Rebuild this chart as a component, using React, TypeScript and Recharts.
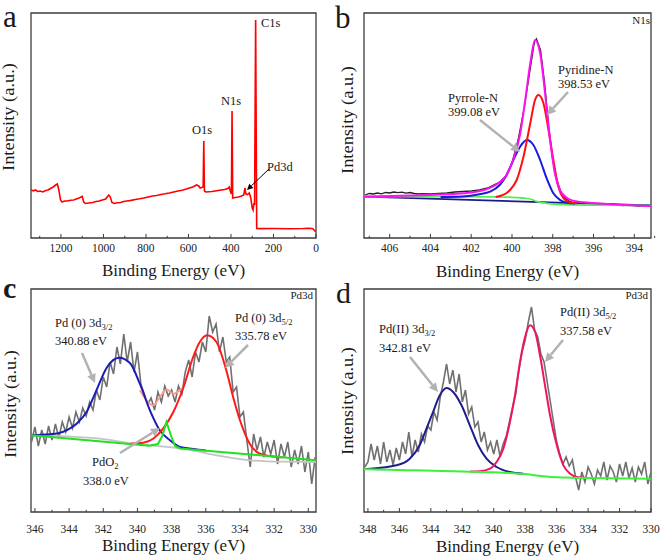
import React from 'react';
import { LineChart, Line, XAxis, YAxis, ReferenceArea } from 'recharts';

type P = [number, number];

// ---------- Panel a: survey ----------
const surveyTicks = [1300, 1200, 1100, 1000, 900, 800, 700, 600, 500, 400, 300, 200, 100, 0];
const surveyData: P[] = [
  [1341, 48], [1330, 47.2], [1320, 48], [1310, 46.5], [1298, 47], [1285, 46], [1272, 47.5], [1260, 48],
  [1250, 49.5], [1240, 50.5], [1225, 53], [1217, 54], [1210, 48],
  [1202, 38], [1195, 36], [1183, 37], [1170, 37], [1155, 37.8], [1140, 38], [1128, 39], [1115, 40], [1100, 41.5], [1093, 36], [1085, 34.5],
  [1070, 35], [1050, 35.5], [1035, 36.5], [1020, 37], [1005, 38], [990, 39], [975, 43], [968, 41], [960, 35.5], [950, 34.5], [935, 35.2], [920, 35.5],
  [905, 36.5], [890, 37], [870, 37.6], [850, 38.5], [830, 39.2], [810, 40], [790, 41], [770, 42], [750, 42.5], [730, 43.5], [710, 44.2], [690, 45], [670, 46], [650, 47], [630, 47.8], [610, 49], [595, 50], [580, 51],
  [562, 53], [552, 52], [545, 50], [531, 51], [528, 97], [525, 47], [518, 46], [505, 46.3], [490, 46.5], [475, 47], [460, 47.5],
  [445, 48], [430, 48.5], [415, 49.5], [408, 51], [402, 46], [398, 44], [395, 127], [392, 40], [380, 40.5], [365, 41],
  [350, 42], [340, 43], [334, 50], [330, 44], [322, 43.5], [314, 45], [307, 40], [300, 30], [296, 28],
  [292, 35], [289, 33], [284, 218], [279, 9.5], [260, 9.4], [200, 9.5], [120, 9.3], [60, 9.5], [30, 9.8],
  [15, 9.3], [6, 7.3], [0, 6],
];

// ---------- Panel b: N1s ----------
const n1sTicks = [407, 406, 405, 404, 403, 402, 401, 400, 399, 398, 397, 396, 395, 394, 393];
const n1sRaw: P[] = [
  [407.2, 43], [407.0, 44.5], [406.8, 44], [406.6, 45], [406.4, 44.2], [406.2, 45.5], [406.0, 45], [405.8, 46],
  [405.6, 45.3], [405.4, 45.8], [405.2, 44.8], [405.0, 45.5], [404.8, 44.5], [404.6, 44], [404.4, 44.3],
  [404.0, 44], [403.6, 44.5], [403.2, 45], [402.8, 46], [402.4, 46.5], [402.0, 47], [401.6, 48], [401.2, 50],
  [400.9, 53], [400.6, 56], [400.3, 62], [400.0, 75], [399.7, 98], [399.4, 130], [399.1, 170], [398.9, 196],
  [398.8, 199], [398.6, 188], [398.4, 155], [398.2, 112], [398.0, 78], [397.8, 58], [397.6, 46], [397.4, 40],
  [397.2, 37], [397.0, 35.5], [396.6, 35], [396.2, 34.8], [395.8, 34], [395.4, 33.5], [395.0, 33.8],
  [394.6, 32.5], [394.2, 33], [393.8, 32], [393.4, 32.5], [393.2, 32],
];
const n1sEnvelope: P[] = [
  [407.26, 41.3], [405, 42.5], [403, 44], [402, 45.5], [401.3, 48.5], [400.8, 53], [400.3, 62], [399.95, 78],
  [399.6, 104], [399.35, 138], [399.1, 175], [398.87, 198], [398.62, 185], [398.38, 145], [398.13, 98],
  [397.9, 65], [397.65, 48], [397.3, 40], [396.8, 36.5], [395.8, 34.7], [394.5, 33], [393.18, 32],
];
const n1sPyridine: P[] = [
  [400.8, 41], [400.6, 42], [400.3, 44.5], [400.1, 48], [399.77, 58], [399.44, 81], [399.1, 115],
  [398.87, 138], [398.7, 143], [398.46, 135], [398.21, 108], [397.97, 78], [397.72, 51], [397.48, 40],
  [397.15, 35.5], [396.8, 34.8],
];
const n1sPyrrole: P[] = [
  [403.5, 41], [402.4, 41.5], [401.6, 43.7], [401.08, 46.3], [400.6, 53], [400.26, 63], [399.93, 78],
  [399.6, 91.3], [399.28, 98], [398.95, 93], [398.62, 78], [398.3, 59.7], [397.97, 44.7], [397.64, 38],
  [397.3, 35.3], [396.9, 34.5],
];
const n1sLinearBg: P[] = [[407.26, 41.3], [393.18, 32.5]];
const n1sShirley: P[] = [
  [407.26, 41.5], [403, 41.5], [401, 41.2], [400, 40.7], [399.5, 40], [399.1, 39], [398.8, 36.7],
  [398.3, 34.7], [397.8, 33.7], [397, 33.2], [395, 32.8], [393.18, 32.3],
];

// ---------- Panel c: Pd3d (Pd 0) ----------
const pd0Ticks = [346, 345, 344, 343, 342, 341, 340, 339, 338, 337, 336, 335, 334, 333, 332, 331, 330];
const pd0Raw: P[] = [
  [346.2, 70], [346.0, 85], [345.8, 66], [345.6, 82], [345.4, 68], [345.2, 86], [345.0, 72], [344.8, 88],
  [344.6, 74], [344.4, 90], [344.2, 80], [344.0, 95], [343.8, 84], [343.6, 100], [343.4, 90], [343.2, 104],
  [343.0, 96], [342.8, 110], [342.6, 102], [342.4, 122], [342.2, 112], [342.0, 135], [341.8, 125],
  [341.6, 150], [341.4, 138], [341.2, 165], [341.0, 148], [340.8, 178], [340.6, 150], [340.4, 170],
  [340.2, 140], [340.0, 160], [339.8, 128], [339.6, 118], [339.4, 108], [339.2, 114], [339.0, 102],
  [338.8, 120], [338.6, 110], [338.4, 126], [338.2, 116], [338.0, 122], [337.8, 110], [337.6, 126],
  [337.4, 118], [337.2, 140], [337.0, 152], [336.8, 135], [336.6, 160], [336.4, 150], [336.2, 170],
  [336.0, 160], [335.8, 196], [335.6, 180], [335.4, 188], [335.2, 160], [335.0, 175], [334.8, 150],
  [334.6, 155], [334.4, 120], [334.2, 125], [334.0, 95], [333.8, 100], [333.6, 72], [333.4, 45],
  [333.2, 78], [333.0, 62], [332.8, 75], [332.6, 55], [332.4, 70], [332.2, 58], [332.0, 72], [331.8, 48],
  [331.6, 68], [331.4, 55], [331.2, 70], [331.0, 45], [330.8, 62], [330.6, 48], [330.4, 66], [330.2, 40],
  [330.0, 60], [329.8, 28], [329.6, 55],
];
const pd0GrayBg: P[] = [
  [346.23, 76.7], [344, 75.5], [342.2, 73.3], [340.25, 68.3], [337.3, 63.3], [335.4, 56.7], [333.4, 51.7],
  [331.5, 50.3], [329.55, 50],
];
const pd0Envelope: P[] = [
  [339.86, 121.7], [339.47, 111.7], [339.08, 106.7], [338.69, 115], [338.3, 122.7], [337.9, 118.3],
  [337.52, 121.7], [337.3, 125],
];
const pd0d32: P[] = [
  [346.23, 76.7], [345.1, 77.7], [344.15, 81.7], [343.56, 88.3], [342.98, 100], [342.4, 121.7],
  [341.8, 144.3], [341.07, 154.3], [340.44, 149], [339.86, 128.3], [339.27, 101.7], [338.69, 81.7],
  [338.1, 71.7], [337.52, 65], [336.74, 63], [336.0, 61.5],
];
const pd0d52: P[] = [
  [340.44, 68.3], [339.66, 69.3], [339.08, 73.3], [338.5, 83.3], [337.9, 100], [337.3, 125], [336.74, 155],
  [336.35, 170], [335.92, 176.7], [335.38, 170], [334.8, 141.7], [334.4, 115], [334.0, 91.7],
  [333.43, 68.3], [332.84, 58.3], [332.26, 56], [331.5, 54.6],
];
const pd0PdO2: P[] = [
  [346.23, 76.7], [339.3, 66.3], [338.8, 68], [338.55, 76], [338.3, 90], [338.05, 77], [337.8, 66],
  [337.5, 63.6], [329.55, 51.7],
];

// ---------- Panel d: Pd3d (Pd II) ----------
const pd2Ticks = [348, 347, 346, 345, 344, 343, 342, 341, 340, 339, 338, 337, 336, 335, 334, 333, 332, 331, 330];
const pd2Raw: P[] = [
  [348.2, 45], [348.0, 50], [347.8, 68], [347.6, 52], [347.4, 66], [347.2, 48], [347.0, 70], [346.8, 50],
  [346.6, 62], [346.4, 47], [346.2, 64], [346.0, 52], [345.8, 70], [345.6, 58], [345.4, 80], [345.2, 55],
  [345.0, 72], [344.8, 60], [344.6, 78], [344.4, 70], [344.2, 86], [344.0, 82], [343.8, 100], [343.6, 92],
  [343.4, 115], [343.2, 130], [343.0, 148], [342.8, 128], [342.6, 142], [342.4, 120], [342.2, 138],
  [342.0, 110], [341.8, 122], [341.6, 98], [341.4, 105], [341.2, 85], [341.0, 90], [340.8, 70],
  [340.6, 80], [340.4, 62], [340.2, 70], [340.0, 58], [339.8, 72], [339.6, 56], [339.4, 68], [339.2, 76],
  [339.0, 90], [338.8, 105], [338.6, 118], [338.4, 142], [338.2, 160], [338.0, 172], [337.8, 190],
  [337.6, 205], [337.4, 182], [337.2, 175], [337.0, 158], [336.8, 150], [336.6, 130], [336.4, 110],
  [336.2, 90], [336.0, 70], [335.8, 58], [335.6, 48], [335.4, 55], [335.2, 46], [335.0, 52], [334.8, 35],
  [334.6, 22], [334.4, 40], [334.2, 30], [334.0, 45], [333.8, 38], [333.6, 28], [333.4, 42], [333.2, 36],
  [333.0, 50], [332.8, 32], [332.6, 46], [332.4, 40], [332.2, 30], [332.0, 48], [331.8, 36], [331.6, 50],
  [331.4, 34], [331.2, 44], [331.0, 30], [330.8, 45], [330.6, 38], [330.4, 50], [330.2, 28], [330.0, 40],
];
const pd2d32: P[] = [
  [348.25, 43], [347.89, 43.3], [346.19, 46.7], [345.34, 53.3], [344.71, 66.7], [344.28, 83.3],
  [343.86, 100], [343.43, 116.7], [343.0, 124], [342.58, 120], [342.05, 106.7], [341.52, 86.7],
  [340.99, 66.7], [340.46, 53.3], [339.82, 45], [338.97, 40], [338.12, 38.3],
];
const pd2d52: P[] = [
  [341.5, 40.5], [340.88, 40.8], [340.24, 43.3], [339.82, 50], [339.39, 63.3], [338.97, 90],
  [338.65, 116.7], [338.33, 150], [338.01, 175], [337.69, 186.7], [337.37, 180], [337.06, 156.7],
  [336.74, 126.7], [336.42, 96.7], [335.99, 66.7], [335.57, 46.7], [335.14, 38.3], [334.72, 35], [334.2, 34.3],
];
const pd2Bg: P[] = [
  [348.25, 43], [347.9, 42.7], [345, 41.8], [342, 40.5], [340, 39.7], [339, 39], [338, 38], [337.3, 36.5],
  [336.5, 35.2], [335.5, 34.5], [334, 34], [330, 33.3],
];

const FONT = "'Liberation Serif','Times New Roman',Times,serif";
const AX = '#3c3c3c';

interface S { data: P[]; color: string; w: number; type?: 'linear' | 'monotone' }

const toPts = (a: P[]) => a.map(([e, v]) => ({ e, v }));

function Panel(props: {
  left: number; top: number; width: number; height: number;
  margin: { top: number; right: number; bottom: number; left: number };
  domain: [number, number]; yMax: number; ticks: number[]; major: number; labelDy: number; series: S[];
}) {
  const { left, top, width, height, margin, domain, yMax, ticks, major, labelDy, series } = props;
  const renderTick = (tp: any) => {
    const { x, y, payload } = tp;
    const v = payload.value as number;
    const r = v / major;
    const isMajor = Math.abs(r - Math.round(r)) < 1e-6;
    return (
      <g>
        <line x1={x} x2={x} y1={y} y2={y - (isMajor ? 4 : 2.2)} stroke={AX} strokeWidth={1} />
        {isMajor && (
          <text x={x} y={y + labelDy} textAnchor="middle" fontSize={11.5} fontFamily={FONT} fill="#222">
            {String(v)}
          </text>
        )}
      </g>
    );
  };
  return (
    <div style={{ position: 'absolute', left, top, width, height }}>
      <LineChart width={width} height={height} margin={margin}>
        <XAxis type="number" dataKey="e" domain={domain} reversed allowDataOverflow ticks={ticks}
          interval={0} tickLine={false} axisLine={false} tickSize={0} tickMargin={0} height={30}
          tick={renderTick} />
        <YAxis type="number" domain={[0, yMax]} allowDataOverflow hide />
        <ReferenceArea x1={domain[0]} x2={domain[1]} y1={0} y2={yMax} fill="none" fillOpacity={0}
          stroke={AX} strokeWidth={1.3} ifOverflow="visible" />
        {series.map((s, i) => (
          <Line key={i} data={toPts(s.data)} dataKey="v" type={s.type ?? 'monotone'} stroke={s.color}
            strokeWidth={s.w} dot={false} isAnimationActive={false} />
        ))}
      </LineChart>
    </div>
  );
}

function T(p: { x: number; y: number; s: number; a?: 'start' | 'middle' | 'end'; bold?: boolean; children: React.ReactNode }) {
  return (
    <text x={p.x} y={p.y} fontSize={p.s} textAnchor={p.a ?? 'start'} fontWeight={p.bold ? 'bold' : 'normal'}
      fontFamily={FONT} fill="#1a1a1a">
      {p.children}
    </text>
  );
}

function YTitle(p: { x: number; y: number }) {
  return (
    <text transform={`translate(${p.x},${p.y}) rotate(-90)`} fontSize={17} textAnchor="middle"
      fontFamily={FONT} fill="#1a1a1a" textLength={108} lengthAdjust="spacingAndGlyphs">
      Intensity (a.u.)
    </text>
  );
}

function Arrow(p: { x1: number; y1: number; x2: number; y2: number; color: string; w: number; head: number }) {
  const a = Math.atan2(p.y2 - p.y1, p.x2 - p.x1);
  const hl = p.head, hw = p.head * 0.5;
  const bx = p.x2 - hl * Math.cos(a), by = p.y2 - hl * Math.sin(a);
  const px = -Math.sin(a) * hw, py = Math.cos(a) * hw;
  return (
    <g>
      <line x1={p.x1} y1={p.y1} x2={bx} y2={by} stroke={p.color} strokeWidth={p.w} />
      <polygon points={`${p.x2},${p.y2} ${bx + px},${by + py} ${bx - px},${by - py}`} fill={p.color} />
    </g>
  );
}

const GA = '#b2b2b2';

export default function App() {
  return (
    <div style={{ position: 'absolute', left: 0, top: 0, width: 661, height: 558, background: '#fff', overflow: 'hidden' }}>
      <Panel left={0} top={0} width={330} height={280} margin={{ top: 13, right: 14, bottom: 12, left: 31 }}
        domain={[0, 1341]} yMax={225} ticks={surveyTicks} major={200} labelDy={14}
        series={[{ data: surveyData, color: '#ff0000', w: 1.6, type: 'linear' }]} />
      <Panel left={330} top={0} width={331} height={280} margin={{ top: 13, right: 10, bottom: 12, left: 34 }}
        domain={[393.18, 407.26]} yMax={225} ticks={n1sTicks} major={2} labelDy={14}
        series={[
          { data: n1sRaw, color: '#222222', w: 1.3, type: 'linear' },
          { data: n1sLinearBg, color: '#1a1a90', w: 1.8, type: 'linear' },
          { data: n1sShirley, color: '#55ee55', w: 1.8 },
          { data: n1sPyrrole, color: '#1a1ae0', w: 2 },
          { data: n1sPyridine, color: '#ff1010', w: 2 },
          { data: n1sEnvelope, color: '#ff10f0', w: 2 },
        ]} />
      <Panel left={0} top={280} width={330} height={278} margin={{ top: 9, right: 14, bottom: 16, left: 31 }}
        domain={[329.55, 346.23]} yMax={223} ticks={pd0Ticks} major={2} labelDy={21}
        series={[
          { data: pd0Raw, color: '#707070', w: 1.6, type: 'linear' },
          { data: pd0GrayBg, color: '#c4c4c4', w: 1.8 },
          { data: pd0Envelope, color: '#ff9a8a', w: 1.8 },
          { data: pd0d32, color: '#1c1cb4', w: 2 },
          { data: pd0d52, color: '#ff1a1a', w: 2 },
          { data: pd0PdO2, color: '#22e022', w: 2, type: 'linear' },
        ]} />
      <Panel left={330} top={280} width={331} height={278} margin={{ top: 9, right: 10, bottom: 16, left: 34 }}
        domain={[330, 348.25]} yMax={223} ticks={pd2Ticks} major={2} labelDy={21}
        series={[
          { data: pd2Raw, color: '#707070', w: 1.6, type: 'linear' },
          { data: pd2d32, color: '#1e1e8c', w: 2 },
          { data: pd2d52, color: '#f01464', w: 2 },
          { data: pd2Bg, color: '#3cf03c', w: 2 },
        ]} />

      <svg width={661} height={558} style={{ position: 'absolute', left: 0, top: 0, pointerEvents: 'none' }}>
        {/* panel letters */}
        <T x={3} y={27} s={31}>a</T>
        <T x={335} y={28} s={31}>b</T>
        <T x={3} y={298} s={30} bold>c</T>
        <T x={336} y={303} s={30}>d</T>

        {/* axis titles */}
        <T x={173.5} y={276} s={17} a="middle">Binding Energy (eV)</T>
        <T x={507.5} y={277} s={17} a="middle">Binding Energy (eV)</T>
        <T x={173.5} y={551} s={17} a="middle">Binding Energy (eV)</T>
        <T x={507.5} y={552} s={17} a="middle">Binding Energy (eV)</T>
        <YTitle x={14} y={117} />
        <YTitle x={353} y={120} />
        <YTitle x={16} y={404} />
        <YTitle x={353} y={401} />

        {/* panel a annotations */}
        <T x={261} y={27} s={12.5}>C1s</T>
        <T x={221} y={105} s={12.5}>N1s</T>
        <T x={192} y={134} s={12.5}>O1s</T>
        <T x={267} y={171} s={12.5}>Pd3d</T>
        <Arrow x1={269} y1={169} x2={247} y2={190} color="#000" w={1} head={6} />

        {/* panel b annotations */}
        <T x={650} y={24} s={11} a="end">N1s</T>
        <T x={558} y={74} s={12.5}>Pyridine-N</T>
        <T x={558} y={88} s={12.5}>398.53 eV</T>
        <T x={448} y={102} s={12.5}>Pyrrole-N</T>
        <T x={448} y={116} s={12.5}>399.08 eV</T>
        <Arrow x1={568} y1={92} x2={547} y2={115} color={GA} w={2.5} head={9} />
        <Arrow x1={480} y1={120} x2={520} y2={152} color={GA} w={2.5} head={9} />

        {/* panel c annotations */}
        <T x={313} y={299} s={11} a="end">Pd3d</T>
        <text x={55} y={327} fontSize={12.5} fontFamily={FONT} fill="#1a1a1a">
          Pd (0) 3d<tspan dy={3} fontSize={8.5}>3/2</tspan>
        </text>
        <T x={55} y={345} s={12.5}>340.88 eV</T>
        <text x={235} y={322} fontSize={12.5} fontFamily={FONT} fill="#1a1a1a">
          Pd (0) 3d<tspan dy={3} fontSize={8.5}>5/2</tspan>
        </text>
        <T x={235} y={340} s={12.5}>335.78 eV</T>
        <text x={92} y={466} fontSize={12.5} fontFamily={FONT} fill="#1a1a1a">
          PdO<tspan dy={3} fontSize={8.5}>2</tspan>
        </text>
        <T x={83} y={485} s={12.5}>338.0 eV</T>
        <Arrow x1={82} y1={353} x2={95} y2={383} color={GA} w={2.5} head={9} />
        <Arrow x1={248} y1={345} x2={225} y2={368} color={GA} w={2.5} head={9} />
        <Arrow x1={120} y1={453} x2={160} y2={428} color={GA} w={2.5} head={9} />

        {/* panel d annotations */}
        <T x={648} y={299} s={11} a="end">Pd3d</T>
        <text x={379} y={333} fontSize={12.5} fontFamily={FONT} fill="#1a1a1a">
          Pd(II) 3d<tspan dy={3} fontSize={8.5}>3/2</tspan>
        </text>
        <T x={379} y={352} s={12.5}>342.81 eV</T>
        <text x={560} y={316} fontSize={12.5} fontFamily={FONT} fill="#1a1a1a">
          Pd(II) 3d<tspan dy={3} fontSize={8.5}>5/2</tspan>
        </text>
        <T x={560} y={335} s={12.5}>337.58 eV</T>
        <Arrow x1={410} y1={357} x2={438} y2={392} color={GA} w={2.5} head={9} />
        <Arrow x1={563} y1={340} x2={545} y2={362} color={GA} w={2.5} head={9} />
      </svg>
    </div>
  );
}
